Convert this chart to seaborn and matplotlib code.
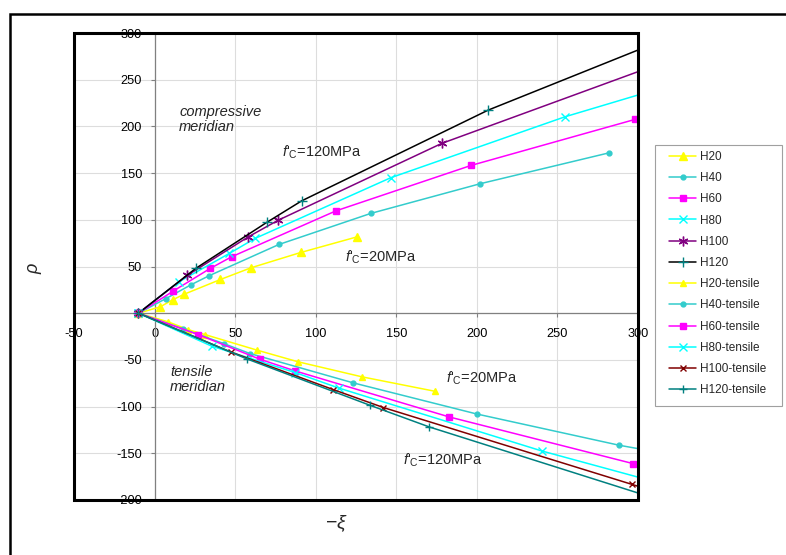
import numpy as np
import pandas as pd
import matplotlib
matplotlib.use("Agg")
import matplotlib.pyplot as plt
import seaborn as sns
from matplotlib.patches import Rectangle

sns.set_theme(style="white")
plt.rcParams["font.family"] = ["Liberation Sans", "DejaVu Sans"]
plt.rcParams["mathtext.fontset"] = "custom"
plt.rcParams["mathtext.rm"] = "Liberation Sans"
plt.rcParams["mathtext.it"] = "Liberation Sans:italic"
plt.rcParams["axes.unicode_minus"] = False

# ---------------- data ----------------
series_names = ["H20", "H40", "H60", "H80", "H100", "H120",
                "H20-tensile", "H40-tensile", "H60-tensile", "H80-tensile",
                "H100-tensile", "H120-tensile"]

# compressive meridian
H20_c_x = [-10, 3.5, 11.2, 18.2, 40.9, 59.8, 90.7, 125.8]
H20_c_y = [0, 6.8, 14.3, 20.2, 36.1, 48.6, 65.0, 81.8]
H40_c_x = [-10, 7.1, 22.9, 33.7, 77.2, 134.1, 202.0, 282.3]
H40_c_y = [0, 15.7, 30.7, 40.0, 73.6, 106.8, 138.6, 171.8]
H60_c_x = [-10, 11.7, 34.5, 47.8, 112.6, 196.4, 298.2]
H60_c_y = [0, 23.8, 47.9, 60.4, 109.6, 158.2, 207.5]
H80_c_x = [-10, 15.0, 46.4, 62.3, 146.5, 254.7, 320]
H80_c_y = [0, 33.5, 64.0, 80.0, 145.0, 210.3, 243.9]
H100_c_x = [-10, 20.3, 58.2, 76.8, 178.2, 320]
H100_c_y = [0, 40.5, 81.8, 99.6, 181.8, 271.2]
H120_c_x = [-10, 25.5, 69.6, 91.3, 207.1, 320]
H120_c_y = [0, 47.9, 97.2, 120.3, 217.5, 295.6]

# tensile meridian
H20_t_x = [-10, 8.5, 21.0, 31.3, 63.5, 89.2, 128.9, 174.0]
H20_t_y = [0, -9.3, -17.7, -22.9, -39.5, -52.1, -68.2, -83.6]
H40_t_x = [-10, 17.4, 43.3, 59.2, 123.3, 199.9, 288.4, 320]
H40_t_y = [0, -16.6, -32.8, -43.2, -74.6, -107.9, -141.4, -151.2]
H60_t_x = [-10, 27.2, 65.4, 87.2, 182.9, 297.1]
H60_t_y = [0, -23.0, -49.3, -61.8, -111.1, -161.1]
H80_t_x = [-10, 35.5, 87.2, 114.4, 240.3, 320]
H80_t_y = [0, -35.3, -63.5, -80.2, -147.5, -184.9]
H100_t_x = [-10, 47.2, 110.9, 142.0, 296.1, 320]
H100_t_y = [0, -41.5, -81.8, -101.0, -183.2, -196.0]
H120_t_x = [-10, 57.4, 133.7, 170.5, 320]
H120_t_y = [0, -49.0, -98.6, -121.8, -203.4]

x_ticks = [-50, 0, 50, 100, 150, 200, 250, 300]
y_ticks = [-200, -150, -100, -50, 0, 50, 100, 150, 200, 250, 300]

# ---------------- styles ----------------
series_xy = [(H20_c_x, H20_c_y), (H40_c_x, H40_c_y), (H60_c_x, H60_c_y),
             (H80_c_x, H80_c_y), (H100_c_x, H100_c_y), (H120_c_x, H120_c_y),
             (H20_t_x, H20_t_y), (H40_t_x, H40_t_y), (H60_t_x, H60_t_y),
             (H80_t_x, H80_t_y), (H100_t_x, H100_t_y), (H120_t_x, H120_t_y)]
line_colors = ["#FFFF00", "#33CCCC", "#FF00FF", "#00FFFF", "#800080", "#000000",
               "#FFFF00", "#33CCCC", "#FF00FF", "#00FFFF", "#800000", "#008080"]
marker_colors = ["#FFFF00", "#33CCCC", "#FF00FF", "#00FFFF", "#800080", "#008080",
                 "#FFFF00", "#33CCCC", "#FF00FF", "#00FFFF", "#800000", "#008080"]
markers = ["^", "o", "s", "x", (6, 2, 0), "+",
           "^", "o", "s", "x", "x", "+"]
msizes = [6, 3.5, 4.5, 6, 7, 7, 5, 3.5, 4.5, 6, 4.5, 6]

fig = plt.figure(figsize=(7.86, 5.55), dpi=100)
ax = fig.add_axes([74 / 786, 1 - 500 / 555, (638 - 74) / 786, (500 - 33) / 555])

ax.set_xlim(-50, 300)
ax.set_ylim(-200, 300)
ax.set_xticks(x_ticks)
ax.set_yticks(y_ticks)
ax.grid(True, color="#DDDDDD", lw=0.8, zorder=0)
ax.set_axisbelow(True)

for name, (xs, ys), lc, mc, mk, ms in zip(series_names, series_xy, line_colors,
                                          marker_colors, markers, msizes):
    df = pd.DataFrame({"x": xs, "y": ys})
    sns.lineplot(data=df, x="x", y="y", ax=ax, sort=False, estimator=None,
                 color=lc, lw=1.1, marker=mk, markersize=ms,
                 markerfacecolor=mc, markeredgecolor=mc, markeredgewidth=1.0,
                 label=name)

# axes through origin (Excel style)
for s in ["top", "right"]:
    ax.spines[s].set_visible(False)
ax.spines["left"].set_position(("data", 0))
ax.spines["bottom"].set_position(("data", 0))
ax.spines["left"].set_color("#808080")
ax.spines["bottom"].set_color("#808080")
ax.spines["left"].set_linewidth(0.9)
ax.spines["bottom"].set_linewidth(0.9)
ax.spines["left"].set_zorder(1)
ax.spines["bottom"].set_zorder(1)
ax.tick_params(axis="x", direction="out", length=3, width=0.8, color="#808080",
               labelsize=9.2, pad=8, labelcolor="black", bottom=True)
ax.tick_params(axis="y", direction="out", length=3, width=0.8, color="#808080",
               labelsize=9.2, pad=6, labelcolor="black", left=True)
ax.set_xlabel("")
ax.set_ylabel("")

# thick plot-area frame
ax.add_patch(Rectangle((0, 0), 1, 1, transform=ax.transAxes, fill=False,
                       ec="black", lw=2.2, clip_on=False, zorder=10))

# annotations
fc = r"$f$'$_{\rm C}$"
ax.text(15.3, 207, "compressive\nmeridian", fontsize=10.5, style="italic",
        ha="left", va="center", linespacing=1.1)
ax.text(79, 172.5, fc + "=120MPa", fontsize=10.5, ha="left", va="center")
ax.text(118, 60, fc + "=20MPa", fontsize=10.5, ha="left", va="center")
ax.text(9.6, -71, "tensile\nmeridian", fontsize=10.5, style="italic",
        ha="left", va="center", linespacing=1.1)
ax.text(181, -70, fc + "=20MPa", fontsize=10.5, ha="left", va="center")
ax.text(154, -157.5, fc + "=120MPa", fontsize=10.5, ha="left", va="center")

# axis titles
fig.text(35 / 786, 1 - 268 / 555, r"$\rho$", fontsize=13, rotation=90,
         ha="center", va="center")
fig.text(336 / 786, 1 - 524 / 555, r"$-\xi$", fontsize=14, ha="center", va="center")

# legend (frame drawn separately to match the reference box)
h, l = ax.get_legend_handles_labels()
leg = ax.legend(h, l, loc="upper left", bbox_to_anchor=(669 / 786, 1 - 151 / 555),
                bbox_transform=fig.transFigure, frameon=False,
                fontsize=8.5, handlelength=2.3, handletextpad=0.3,
                labelspacing=0.78, borderpad=0, borderaxespad=0)
fig.patches.append(Rectangle((655 / 786, 1 - 406 / 555), 127 / 786, 261 / 555,
                             transform=fig.transFigure, fill=False,
                             ec="#A0A0A0", lw=0.8, figure=fig))

# outer chart border
fig.patches.append(Rectangle((10 / 786, -0.1), 1.2, 1 - 14 / 555 + 0.1,
                             transform=fig.transFigure, fill=False,
                             ec="black", lw=1.8, figure=fig))

fig.savefig("out.png", dpi=100)
